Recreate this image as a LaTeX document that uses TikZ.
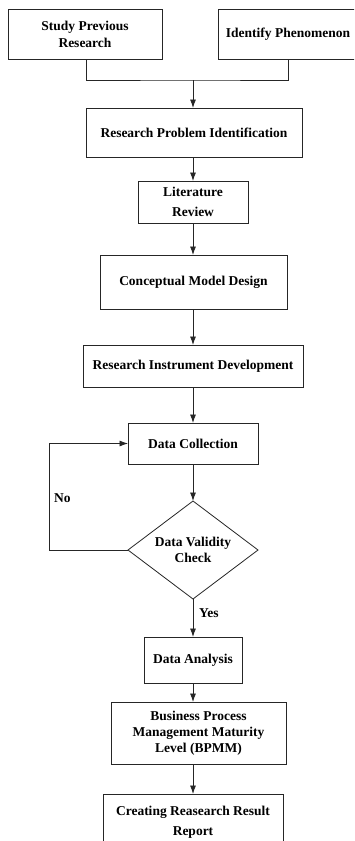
\documentclass[tikz,border=0pt]{standalone}
\usepackage{fontspec}
\setmainfont{Liberation Serif}
\usetikzlibrary{arrows.meta,shapes.geometric}
\tikzset{
  boxed/.style={draw=black!85, line width=0.8pt, rectangle, inner sep=0pt, outer sep=0pt,
    align=center, font=\bfseries\fontsize{13.5}{17}\selectfont},
  wide/.style={font=\bfseries\fontsize{13.5}{20}\selectfont},
  decision/.style={draw=black!85, line width=0.8pt, diamond, inner sep=0pt, outer sep=0pt,
    aspect=1.33, align=center, minimum width=130pt, minimum height=98pt,
    font=\bfseries\fontsize{13.5}{16}\selectfont},
  flow/.style={draw=black!85, line width=0.8pt, -{Latex[length=8.5pt,width=6pt]}},
  link/.style={draw=black!85, line width=0.8pt},
  tag/.style={font=\bfseries\fontsize{13.5}{16}\selectfont, inner sep=0pt}
}
\begin{document}
\begin{tikzpicture}[x=1pt,y=-1pt]
\useasboundingbox (0,0) rectangle (354,841);
\fill[white] (0,0) rectangle (354,841);
\begin{scope}
\clip (0,0) rectangle (354,841);
% top sources
\node[boxed, minimum width=154pt, minimum height=50pt] (study) at (85,34) {Study Previous\\Research};
\node[boxed, minimum width=140pt, minimum height=50pt] (ident) at (288,34) {Identify Phenomenon};
% main column
\node[boxed, minimum width=216pt, minimum height=49pt] (rpi) at (194,132.5) {Research Problem Identification};
\node[boxed, wide, minimum width=110pt, minimum height=42pt] (lit) at (193,202) {Literature\\Review};
\node[boxed, minimum width=187pt, minimum height=54pt] (cmd) at (193.5,282) {Conceptual Model Design};
\node[boxed, minimum width=220pt, minimum height=42pt] (rid) at (193,366) {Research Instrument Development};
\node[boxed, minimum width=130pt, minimum height=41pt] (dc) at (193,443.5) {Data Collection};
\node[decision] (chk) at (193,550) {Data Validity\\Check};
\node[boxed, minimum width=98pt, minimum height=46pt] (da) at (193,660) {Data Analysis};
\node[boxed, font=\bfseries\fontsize{13.5}{16}\selectfont, minimum width=175pt, minimum height=62pt] (bpmm) at (198.5,733) {Business Process\\Management Maturity\\Level (BPMM)};
\node[boxed, wide, minimum width=180pt, minimum height=56pt] (rep) at (193,822) {Creating Reasearch Result\\Report};

% merge of the two sources
\coordinate (join) at (193,80);
\draw[link] (study.south -| 86,0) |- (join) -| (ident.south -| 288,0);
\draw[flow] (join) -- (rpi.north -| join);
\draw[flow] (rpi.south -| 193,0) -- (lit.north);
\draw[flow] (lit.south) -- (cmd.north -| 193,0);
\draw[flow] (cmd.south -| 193,0) -- (rid.north);
\draw[flow] (rid.south) -- (dc.north);
\draw[flow] (dc.south) -- (chk.north);
% retry loop
\coordinate (loopcorner) at (49,550);
\draw[flow] (chk.west) -- (loopcorner) |- (dc.west);
\node[tag, anchor=west] (no) at (54,498) {No};
% accepted data
\draw[flow] (chk.south) -- (da.north);
\node[tag, anchor=west] (yes) at (199,613) {Yes};
\draw[flow] (da.south) -- (bpmm.north -| 193,0);
\draw[flow] (bpmm.south -| 193,0) -- (rep.north);
\end{scope}
\end{tikzpicture}
\end{document}
